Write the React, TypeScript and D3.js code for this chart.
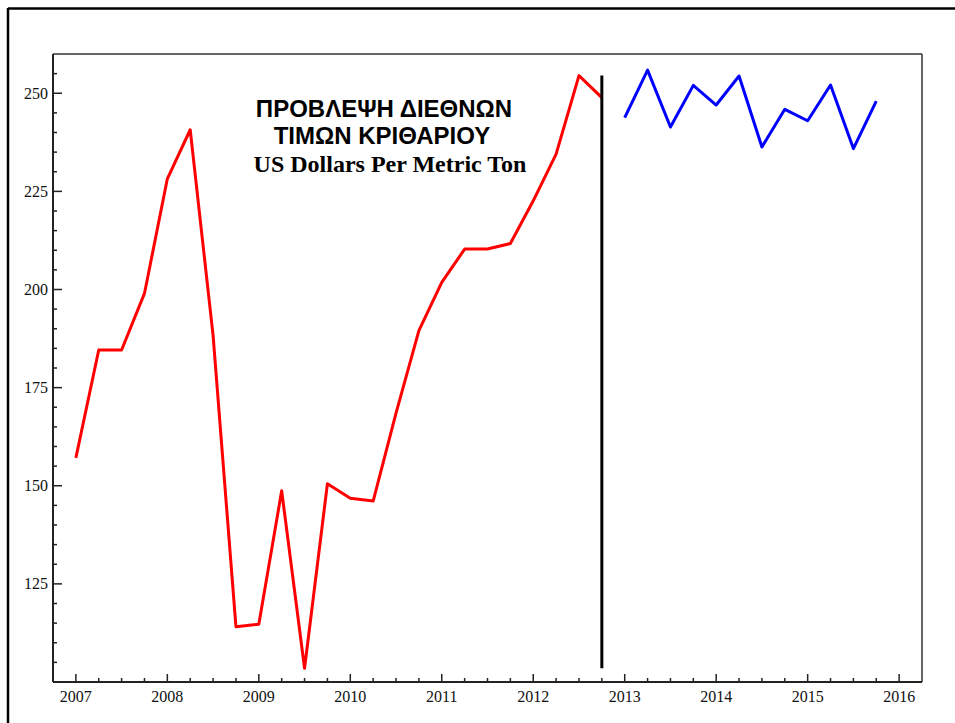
import React from "react";
import * as d3 from "d3";

const redX = [2007, 2007.25, 2007.5, 2007.75, 2008, 2008.25, 2008.5, 2008.75, 2009, 2009.25, 2009.5, 2009.75, 2010, 2010.25, 2010.5, 2010.75, 2011, 2011.25, 2011.5, 2011.75, 2012, 2012.25, 2012.5, 2012.75];
const redValues = [157.1, 184.6, 184.6, 199.0, 228.2, 240.7, 188.3, 114.1, 114.7, 148.7, 103.5, 150.5, 146.8, 146.1, 168.5, 189.5, 201.8, 210.3, 210.3, 211.7, 222.6, 234.5, 254.5, 248.9];
const blueX = [2013, 2013.25, 2013.5, 2013.75, 2014, 2014.25, 2014.5, 2014.75, 2015, 2015.25, 2015.5, 2015.75];
const blueValues = [243.8, 255.9, 241.4, 252.0, 247.0, 254.4, 236.3, 245.9, 243.0, 252.1, 235.9, 248.0];
const dividerYear = 2012.75;
const xTickYears = [2007, 2008, 2009, 2010, 2011, 2012, 2013, 2014, 2015, 2016];
const yTickValues = [125, 150, 175, 200, 225, 250];
const titleLines = ["ΠΡΟΒΛΕΨΗ ΔΙΕΘΝΩΝ", "ΤΙΜΩΝ ΚΡΙΘΑΡΙΟΥ"];
const subtitle = "US Dollars Per Metric Ton";

export default function App() {
  const W = 955, H = 723;
  const left = 53, right = 922, top = 54, bottom = 682;
  const x = d3.scaleLinear().domain([2006.75, 2016.25]).range([left, right]);
  const y = d3.scaleLinear().domain([100, 260]).range([bottom, top]);

  const line = d3.line<[number, number]>().x((d) => x(d[0])).y((d) => y(d[1]));
  const redPts = redX.map((t, i) => [t, redValues[i]] as [number, number]);
  const bluePts = blueX.map((t, i) => [t, blueValues[i]] as [number, number]);

  const xMinor = d3.range(2007, 2016.01, 0.25).filter((t) => Math.abs(t - Math.round(t)) > 0.01);
  const yMinor = d3.range(105, 260, 5).filter((v) => v % 25 !== 0);

  const minR = d3.min(redValues) as number;
  const maxR = d3.max(redValues) as number;

  return (
    <div style={{ position: "absolute", left: 0, top: 0 }}>
      <svg width={W} height={H} style={{ display: "block", background: "#fff" }}>
        {/* outer frame */}
        <line x1={8} y1={8.5} x2={W} y2={8.5} stroke="#000" strokeWidth={2.5} />
        <line x1={8} y1={8} x2={8} y2={H} stroke="#000" strokeWidth={2.5} />

        {/* plot box */}
        <line x1={left} y1={top} x2={right} y2={top} stroke="#333" strokeWidth={1.5} />
        <line x1={right} y1={top} x2={right} y2={bottom} stroke="#333" strokeWidth={1.5} />
        <line x1={left} y1={top} x2={left} y2={bottom} stroke="#222" strokeWidth={2} />
        <line x1={left} y1={bottom} x2={right} y2={bottom} stroke="#222" strokeWidth={2} />

        {/* y ticks */}
        {yTickValues.map((v) => (
          <g key={"y" + v}>
            <line x1={left} x2={left + 9} y1={y(v)} y2={y(v)} stroke="#222" strokeWidth={1.5} />
            <text x={left - 5} y={y(v)} dy="0.35em" textAnchor="end" fontFamily="Liberation Serif" fontSize={16} fill="#111">
              {v}
            </text>
          </g>
        ))}
        {yMinor.map((v) => (
          <line key={"ym" + v} x1={left} x2={left + 4} y1={y(v)} y2={y(v)} stroke="#222" strokeWidth={1.5} />
        ))}

        {/* x ticks */}
        {xTickYears.map((t) => (
          <g key={"x" + t}>
            <line x1={x(t)} x2={x(t)} y1={bottom} y2={bottom - 8} stroke="#222" strokeWidth={1.5} />
            <text x={x(t)} y={bottom + 20} textAnchor="middle" fontFamily="Liberation Serif" fontSize={16} fill="#111">
              {t}
            </text>
          </g>
        ))}
        {xMinor.map((t) => (
          <line key={"xm" + t} x1={x(t)} x2={x(t)} y1={bottom} y2={bottom - 4} stroke="#222" strokeWidth={1.5} />
        ))}

        {/* series */}
        <path d={line(redPts) || ""} fill="none" stroke="#ff0000" strokeWidth={3} strokeLinejoin="round" />
        <path d={line(bluePts) || ""} fill="none" stroke="#0000ff" strokeWidth={3} strokeLinejoin="round" />
        <line x1={x(dividerYear)} x2={x(dividerYear)} y1={y(maxR)} y2={y(minR)} stroke="#000" strokeWidth={3} />

        {/* title */}
        <text x={384} y={117} textAnchor="middle" fontFamily="Liberation Sans" fontWeight="bold" fontSize={24} fill="#000">
          {titleLines[0]}
        </text>
        <text x={382} y={144} textAnchor="middle" fontFamily="Liberation Sans" fontWeight="bold" fontSize={24} fill="#000">
          {titleLines[1]}
        </text>
        <text x={390} y={172} textAnchor="middle" fontFamily="Liberation Serif" fontWeight="bold" fontSize={24} fill="#000">
          {subtitle}
        </text>
      </svg>
    </div>
  );
}
